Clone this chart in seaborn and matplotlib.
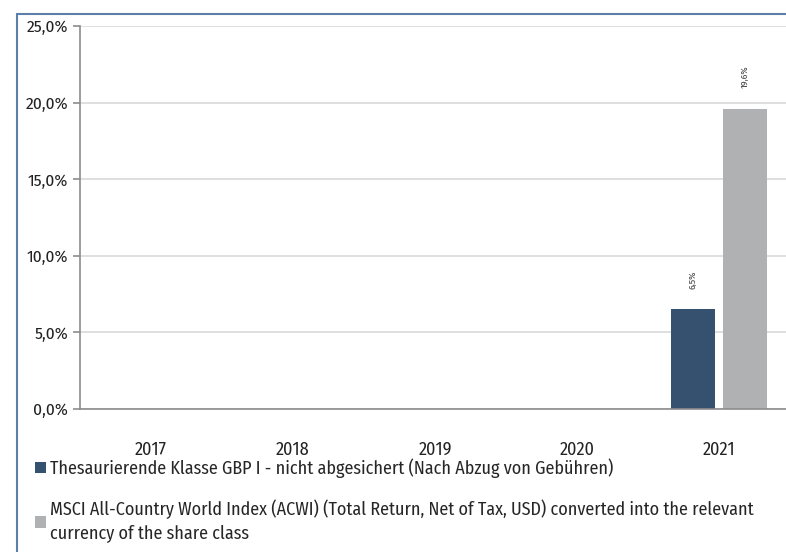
import numpy as np
import pandas as pd
import seaborn as sns
import matplotlib.pyplot as plt
import matplotlib.ticker as ticker
from matplotlib.patches import Patch
from matplotlib.lines import Line2D

sns.set_style("white")
plt.rcParams["font.family"] = ["Fira Sans Condensed", "DejaVu Sans"]

# Data (calendar-year returns, %)
years = ["2017", "2018", "2019", "2020", "2021"]
fund = [np.nan, np.nan, np.nan, np.nan, 6.5]
index = [np.nan, np.nan, np.nan, np.nan, 19.6]
series_names = [
    "Thesaurierende Klasse GBP I - nicht abgesichert (Nach Abzug von Gebühren)",
    "MSCI All-Country World Index (ACWI) (Total Return, Net of Tax, USD) converted into the relevant\ncurrency of the share class",
]
colors = ["#36506f", "#b0b1b3"]

df = pd.DataFrame({
    "year": years * 2,
    "value": fund + index,
    "series": [series_names[0]] * 5 + [series_names[1]] * 5,
})

fig = plt.figure(figsize=(7.86, 5.52), dpi=100)
ax = fig.add_axes([0.1018, 0.259, 0.9087, 0.694])

sns.barplot(data=df, x="year", y="value", hue="series", order=years,
            hue_order=series_names, palette=colors, width=0.732, gap=0.15,
            linewidth=0, saturation=1, legend=False, ax=ax)

# value labels, rotated
for cont in ax.containers:
    labels = ["" if np.isnan(v) else f"{v:.1f}%".replace(".", ",") for v in cont.datavalues]
    ax.bar_label(cont, labels=labels, rotation=90, padding=15, fontsize=7, color="#444444")

ax.set_ylim(0, 25)
ax.set_xlim(-0.5, 4.53)
ax.yaxis.set_major_locator(ticker.MultipleLocator(5))
ax.yaxis.set_major_formatter(ticker.FuncFormatter(lambda v, p: f"{v:.1f}%".replace(".", ",")))
ax.grid(True, axis="y", color="#d9d9d9", linewidth=1.2)
ax.set_axisbelow(True)

for s in ["top", "right"]:
    ax.spines[s].set_visible(False)
for s in ["left", "bottom"]:
    ax.spines[s].set_color("#8c8c8c")
    ax.spines[s].set_linewidth(1.2)

ax.set_xticks(np.arange(-0.5, 5, 1), minor=True)
ax.tick_params(axis="x", which="major", length=0, pad=23, labelsize=13, colors="#222222")
ax.tick_params(axis="x", which="minor", length=5, width=1.2, color="#8c8c8c", direction="out")
ax.tick_params(axis="y", length=5, width=1.2, color="#8c8c8c", labelsize=12.5, colors="#222222", left=True)
ax.set_xlabel("")
ax.set_ylabel("")

# legend below chart
handles = [Patch(facecolor=c, edgecolor="none") for c in colors]
leg = fig.legend(handles, series_names, loc="upper left", bbox_to_anchor=(0.045, 0.17),
                 frameon=False, fontsize=13, handlelength=0.6, handleheight=0.6,
                 handletextpad=0.2, labelspacing=1.2, borderaxespad=0, borderpad=0)
for t in leg.get_texts():
    t.set_linespacing(1.45)

# outer frame lines (top and left)
frame_color = "#5b7fa8"
fig.add_artist(Line2D([0.022, 1.0], [0.975, 0.975], color=frame_color, linewidth=1.5))
fig.add_artist(Line2D([0.022, 0.022], [0.0, 0.975], color=frame_color, linewidth=1.5))

plt.savefig("out.png", dpi=100)
